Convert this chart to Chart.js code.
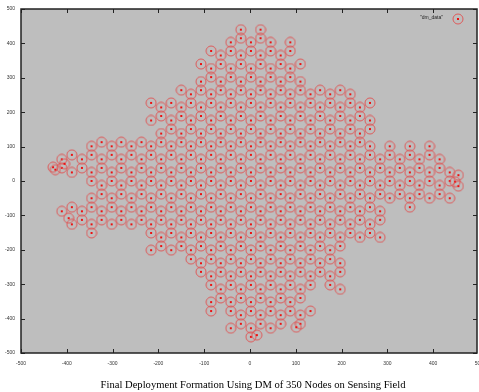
<!DOCTYPE html>
<html>
<head>
<meta charset="utf-8">
<script src="https://cdn.jsdelivr.net/npm/chart.js@4.4.1/dist/chart.umd.min.js"></script>
<style>
html, body { margin: 0; padding: 0; background: #fff; }
#c { display: block; }
</style>
</head>
<body>
<canvas id="c" width="479" height="392"></canvas>
<script>
// final node positions, read column by column (x of the column, y of each node in it)
var colX = [-411, -389, -367, -346, -324, -302, -281, -259, -237, -216,
            -194, -172, -150, -129, -107, -85, -64, -42, -20, 2,
            23, 45, 67, 88, 110, 132, 153, 175, 197, 219,
            240, 262, 284, 305, 327, 349, 370, 392, 414, 436];

var colY = [
	[63, 38, -88],
	[76, 25, -76, -126],
	[63, 38, -88, -113],
	[101, 76, 25, 0, -50, -76, -126, -151],
	[113, 63, 38, -13, -38, -88, -113],
	[101, 76, 25, 0, -50, -76, -126],
	[113, 63, 38, -13, -38, -88, -113],
	[101, 76, 25, 0, -50, -76, -126],
	[113, 63, 38, -13, -38, -88, -113],
	[227, 176, 101, 76, 25, 0, -50, -76, -126, -151, -201],
	[214, 189, 138, 113, 63, 38, -13, -38, -88, -113, -164, -189],
	[227, 176, 151, 101, 76, 25, 0, -50, -76, -126, -151, -201],
	[264, 214, 189, 138, 113, 63, 38, -13, -38, -88, -113, -164, -189],
	[252, 227, 176, 151, 101, 76, 25, 0, -50, -76, -126, -151, -201, -227],
	[340, 289, 264, 214, 189, 138, 113, 63, 38, -13, -38, -88, -113, -164, -189, -239, -264],
	[378, 327, 302, 252, 227, 176, 151, 101, 76, 25, 0, -50, -76, -126, -151, -201, -227, -277, -302, -352, -378],
	[365, 340, 289, 264, 214, 189, 138, 113, 63, 38, -13, -38, -88, -113, -164, -189, -239, -264, -315, -340],
	[403, 378, 327, 302, 252, 227, 176, 151, 101, 76, 25, 0, -50, -76, -126, -151, -201, -227, -277, -302, -352, -378, -428],
	[440, 415, 365, 340, 289, 264, 214, 189, 138, 113, 63, 38, -13, -38, -88, -113, -164, -189, -239, -264, -315, -340, -390, -415],
	[403, 378, 327, 302, 252, 227, 176, 151, 101, 76, 25, 0, -50, -76, -126, -151, -201, -227, -277, -302, -352, -378, -428, -453],
	[440, 415, 365, 340, 289, 264, 214, 189, 138, 113, 63, 38, -13, -38, -88, -113, -164, -189, -239, -264, -315, -340, -390, -415],
	[403, 378, 327, 302, 252, 227, 176, 151, 101, 76, 25, 0, -50, -76, -126, -151, -201, -227, -277, -302, -352, -378, -428],
	[365, 340, 289, 264, 214, 189, 138, 113, 63, 38, -13, -38, -88, -113, -164, -189, -239, -264, -315, -340, -390, -415],
	[403, 378, 327, 302, 252, 227, 176, 151, 101, 76, 25, 0, -50, -76, -126, -151, -201, -227, -277, -302, -352, -378],
	[340, 289, 264, 214, 189, 138, 113, 63, 38, -13, -38, -88, -113, -164, -189, -239, -264, -315, -340, -390, -415],
	[252, 227, 176, 151, 101, 76, 25, 0, -50, -76, -126, -151, -201, -227, -277, -302, -378],
	[264, 214, 189, 138, 113, 63, 38, -13, -38, -88, -113, -164, -189, -239, -264],
	[252, 227, 176, 151, 101, 76, 25, 0, -50, -76, -126, -151, -201, -227, -277, -302],
	[264, 214, 189, 138, 113, 63, 38, -13, -38, -88, -113, -164, -189, -239, -264, -315],
	[252, 227, 176, 151, 101, 76, 25, 0, -50, -76, -126, -151],
	[214, 189, 138, 113, 63, 38, -13, -38, -88, -113, -164],
	[227, 176, 151, 101, 76, 25, 0, -50, -76, -126, -151],
	[63, 38, -13, -38, -88, -113, -164],
	[101, 76, 25, 0, -50],
	[63, 38, -13, -38],
	[101, 76, 25, 0, -50, -76],
	[63, 38, -13, -38],
	[101, 76, 25, 0, -50],
	[63, 38, -13, -38],
	[25, 0, -50]
];

// nodes that sit off the regular pattern (the tips and the bottom)
var extraX = [-430, -425, -405, -396, 15, 101, 455, 448, 455];
var extraY = [40, 33, 50, -108, -448, -425, 17, -2, -15];

var xTicks = [-500, -400, -300, -200, -100, 0, 100, 200, 300, 400, 500];
var yTicks = [-500, -400, -300, -200, -100, 0, 100, 200, 300, 400, 500];
var seriesName = '"dm_data"';
var titleText = 'Final Deployment Formation Using DM of 350 Nodes on Sensing Field';

var points = [];
for (var i = 0; i < colX.length; i++) {
	for (var j = 0; j < colY[i].length; j++) {
		points.push({x: colX[i], y: colY[i][j]});
	}
}
for (var i = 0; i < extraX.length; i++) {
	points.push({x: extraX[i], y: extraY[i]});
}

// gnuplot style mark: open circle with a dot in the middle
function nodeMark() {
	var c = document.createElement('canvas');
	c.width = 12; c.height = 12;
	var g = c.getContext('2d');
	g.strokeStyle = '#de5a5a';
	g.lineWidth = 1;
	g.beginPath();
	g.arc(6, 6, 5, 0, Math.PI * 2);
	g.stroke();
	g.fillStyle = '#ee1010';
	g.fillRect(5, 5, 2, 2);
	return c;
}
var mark = nodeMark();

var gnuFrame = {
	id: 'gnuFrame',
	beforeDraw: function(chart) {
		var a = chart.chartArea, ctx = chart.ctx;
		ctx.save();
		ctx.fillStyle = '#bebebe';
		ctx.fillRect(a.left, a.top, a.right - a.left - 2, a.bottom - a.top);
		ctx.restore();
	},
	afterDraw: function(chart) {
		var a = chart.chartArea, ctx = chart.ctx;
		var sx = chart.scales.x, sy = chart.scales.y;
		var right = a.right - 2;
		ctx.save();
		ctx.strokeStyle = '#222';
		ctx.lineWidth = 1;
		ctx.beginPath();
		for (var i = 0; i < xTicks.length; i++) {
			var px = Math.round(sx.getPixelForValue(xTicks[i])) + 0.5;
			if (px > right) continue;
			ctx.moveTo(px, a.bottom); ctx.lineTo(px, a.bottom - 4);
			ctx.moveTo(px, a.top); ctx.lineTo(px, a.top + 4);
		}
		for (var i = 0; i < yTicks.length; i++) {
			var py = Math.round(sy.getPixelForValue(yTicks[i])) + 0.5;
			ctx.moveTo(a.left, py); ctx.lineTo(a.left + 4, py);
			ctx.moveTo(right, py); ctx.lineTo(right - 4, py);
		}
		ctx.stroke();
		ctx.lineWidth = 1.5;
		ctx.strokeRect(a.left, a.top, right - a.left, a.bottom - a.top);
		// key
		ctx.fillStyle = '#222';
		ctx.font = '5px "Liberation Sans"';
		ctx.textAlign = 'right';
		ctx.textBaseline = 'middle';
		ctx.fillText(seriesName, a.right - 36, a.top + 9);
		ctx.drawImage(mark, a.right - 27, a.top + 4);
		// caption under the plot
		ctx.fillStyle = '#000';
		ctx.font = '10.6px "Liberation Serif"';
		ctx.textAlign = 'center';
		ctx.fillText(titleText, (a.left + a.right) / 2 + 3, 385);
		ctx.restore();
	}
};

var ctx = document.getElementById('c').getContext('2d');
var chart = new Chart(ctx, {
	type: 'scatter',
	data: {
		datasets: [{
			label: seriesName,
			data: points,
			pointStyle: mark,
			pointRadius: 6,
			pointHoverRadius: 6
		}]
	},
	options: {
		responsive: false,
		animation: false,
		events: [],
		layout: { autoPadding: false, padding: { top: 9, left: 0, right: 0, bottom: 0 } },
		plugins: {
			legend: { display: false },
			tooltip: { enabled: false },
			title: { display: false }
		},
		scales: {
			x: {
				type: 'linear', min: -500, max: 500,
				grid: { display: false, drawTicks: false },
				border: { display: false },
				afterBuildTicks: function(s) { s.ticks = xTicks.map(function(v) { return {value: v}; }); },
				afterFit: function(s) { s.height = 39; s.paddingLeft = 0; s.paddingRight = 0; },
				ticks: { padding: 8, color: '#333', font: { family: 'Liberation Sans', size: 5 }, maxRotation: 0, autoSkip: false }
			},
			y: {
				type: 'linear', min: -500, max: 500,
				grid: { display: false, drawTicks: false },
				border: { display: false },
				afterBuildTicks: function(s) { s.ticks = yTicks.map(function(v) { return {value: v}; }); },
				afterFit: function(s) { s.width = 21; s.paddingTop = 0; s.paddingBottom = 0; },
				ticks: { padding: 6, color: '#333', font: { family: 'Liberation Sans', size: 5 }, autoSkip: false }
			}
		}
	},
	plugins: [gnuFrame]
});
</script>
</body>
</html>
